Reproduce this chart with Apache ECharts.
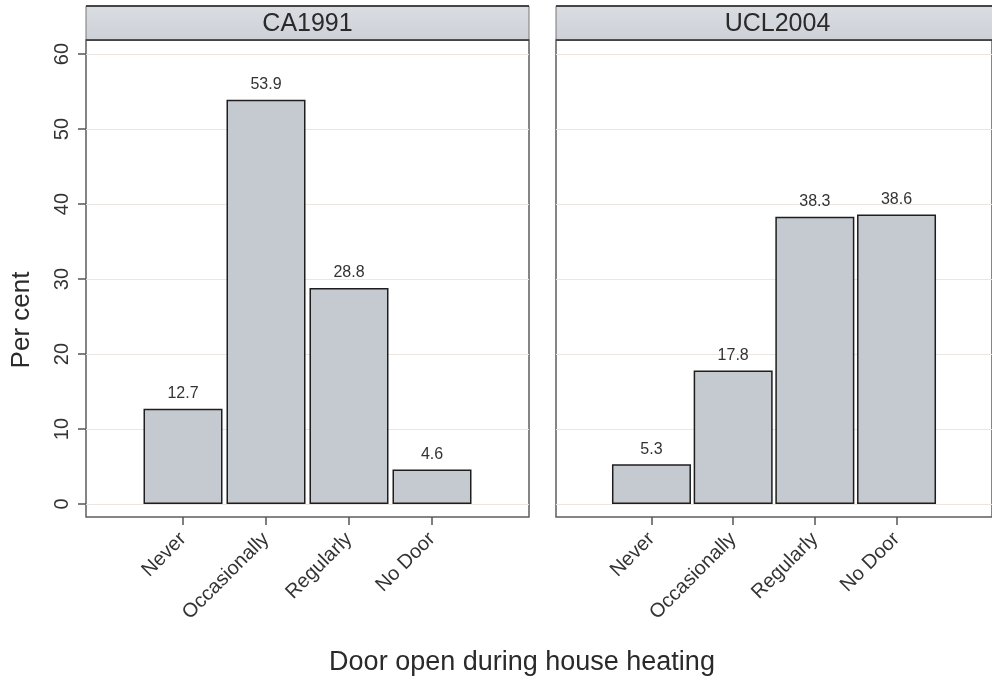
<!DOCTYPE html>
<html>
<head>
<meta charset="utf-8">
<script src="https://cdn.jsdelivr.net/npm/echarts@6/dist/echarts.min.js"></script>
<style>
html,body{margin:0;padding:0;background:#fff;}
#chart{width:992px;height:682px;}
</style>
</head>
<body>
<div id="chart"></div>
<script>
// ---- data ----
const categories = ['Never', 'Occasionally', 'Regularly', 'No Door'];
const panelTitles = ['CA1991', 'UCL2004'];
const ca1991 = [12.7, 53.9, 28.8, 4.6];
const ucl2004 = [5.3, 17.8, 38.3, 38.6];
const yTicks = [0, 10, 20, 30, 40, 50, 60];
const xTitle = 'Door open during house heating';
const yTitle = 'Per cent';

// ---- layout / style ----
const FONT = 'Liberation Sans, Arial, sans-serif';
const panelLeft = [86, 556];
const panelW = 443, plotTop = 40, plotH = 477, stripTop = 6, stripH = 34;
const catPos = categories.map((c, i) => i + 1);
const xMin = -0.1687, xMax = 5.1687;
const yMin = -1.73, yMax = 61.87;
const seriesValues = [ca1991, ucl2004];

const chart = echarts.init(document.getElementById('chart'), null, {renderer: 'canvas'});

const grids = panelLeft.map(l => ({
  left: l, top: plotTop, width: panelW, height: plotH,
  show: true, backgroundColor: '#fff', borderColor: '#5e5e5e', borderWidth: 1.5,
  containLabel: false
}));

const xAxes = panelLeft.map((l, i) => ({
  type: 'value', gridIndex: i, min: xMin, max: xMax, position: 'bottom',
  axisLine: {show: false, onZero: false},
  splitLine: {show: false},
  axisTick: {show: true, customValues: catPos, length: 8, inside: false,
             lineStyle: {color: '#555', width: 1.5}},
  axisLabel: {show: true, customValues: catPos, rotate: 45, margin: 19,
              fontFamily: FONT, fontSize: 20, color: '#333',
              formatter: v => categories[Math.round(v) - 1] || ''}
}));

const yAxes = panelLeft.map((l, i) => ({
  type: 'value', gridIndex: i, min: yMin, max: yMax, position: 'left',
  axisLine: {show: false, onZero: false},
  splitLine: {show: true, lineStyle: {color: '#ebe6e2', width: 1}},
  axisTick: {show: i === 0, customValues: yTicks, length: 8,
             lineStyle: {color: '#555', width: 1.5}},
  axisLabel: {show: i === 0, customValues: yTicks, rotate: 90, margin: 14,
              fontFamily: FONT, fontSize: 20, color: '#333'}
}));

const series = seriesValues.map((vals, i) => ({
  type: 'bar', xAxisIndex: i, yAxisIndex: i,
  data: vals.map((v, k) => [catPos[k], v]),
  barWidth: 79,
  itemStyle: {color: '#c5c9d0', borderColor: '#1e1e1e', borderWidth: 1.5},
  label: {show: true, position: 'top', distance: 7, fontFamily: FONT, fontSize: 16,
          color: '#333', formatter: p => p.value[1].toFixed(1)},
  emphasis: {disabled: true},
  animation: false
}));

const graphics = [];
panelLeft.forEach((l, i) => {
  graphics.push({
    type: 'rect', shape: {x: l, y: stripTop, width: panelW, height: stripH},
    style: {fill: new echarts.graphic.LinearGradient(0, 0, 0, 1, [
      {offset: 0, color: '#dadde2'}, {offset: 1, color: '#cdd1d7'}]),
      stroke: '#777', lineWidth: 1}
  });
  graphics.push({type: 'line', shape: {x1: l, y1: stripTop, x2: l + panelW, y2: stripTop},
    style: {stroke: '#222', lineWidth: 1.5}});
  graphics.push({type: 'line', shape: {x1: l, y1: plotTop, x2: l + panelW, y2: plotTop},
    style: {stroke: '#333', lineWidth: 1.5}, z: 10});
  graphics.push({
    type: 'text', x: l + panelW / 2, y: stripTop + stripH / 2 + 1,
    style: {text: panelTitles[i], fontFamily: FONT, fontSize: 25, fill: '#2a2a2a',
            textAlign: 'center', textVerticalAlign: 'middle'}
  });
});
graphics.push({
  type: 'text', x: 522, y: 663,
  style: {text: xTitle, fontFamily: FONT, fontSize: 27, fill: '#2a2a2a',
          textAlign: 'center', textVerticalAlign: 'middle'}
});
graphics.push({
  type: 'text', x: 22, y: 320, rotation: Math.PI / 2,
  style: {text: yTitle, fontFamily: FONT, fontSize: 26, fill: '#2a2a2a',
          textAlign: 'center', textVerticalAlign: 'middle'}
});

chart.setOption({
  animation: false,
  backgroundColor: '#fff',
  grid: grids,
  xAxis: xAxes,
  yAxis: yAxes,
  series: series,
  graphic: graphics
});
</script>
</body>
</html>
